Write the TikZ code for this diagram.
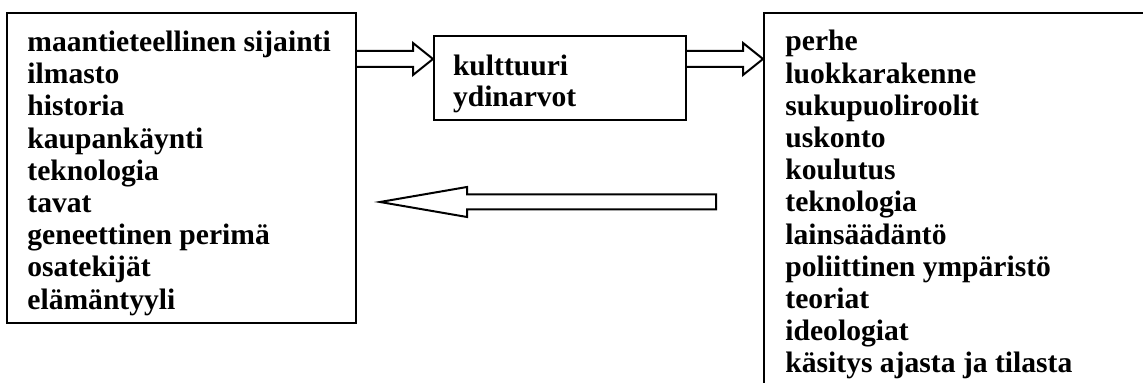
\documentclass[tikz,border=0pt]{standalone}
\usepackage{fontspec}
\setmainfont{Liberation Serif}
\usetikzlibrary{positioning,calc}

\begin{document}
\begin{tikzpicture}[x=0.5pt,y=0.5pt,yscale=-1,xscale=1,
  box/.style={draw,line width=1.1pt,inner sep=0pt,anchor=north west},
  list/.style={align=left,inner sep=0pt,anchor=north west,font=\fontsize{14.8}{16.1}\selectfont\bfseries},
  hollow/.style={draw,line width=1pt,line join=miter}]
\useasboundingbox (0,0) rectangle (1143,383);
\clip (0,0) rectangle (1143,383);

%Boxes
\node [box,minimum width=174.5pt,minimum height=155pt] (tekijat) at (6,12) {};
\node [box,minimum width=126pt,minimum height=42pt] (kulttuuri) at (433,35) {};
\node [box,minimum width=200pt,minimum height=200pt] (ilmiot) at (763,12) {};

% Text Nodes
\node [list,below right=9.3pt and 10.5pt of tekijat.north west] (tekijatxt) {maantieteellinen sijainti\\ilmasto\\historia\\kaupankäynti\\teknologia\\tavat\\geneettinen perimä\\osatekijät\\elämäntyyli};
\node [list,below right=9.8pt and 9.8pt of kulttuuri.north west,font=\fontsize{14.8}{15.5}\selectfont\bfseries] (kulttuuritxt) {kulttuuri\\ydinarvot};
\node [list,below right=9pt and 11pt of ilmiot.north west] (ilmiottxt) {perhe\\luokkarakenne\\sukupuoliroolit\\uskonto\\koulutus\\teknologia\\lainsäädäntö\\poliittinen ympäristö\\teoriat\\ideologiat\\käsitys ajasta ja tilasta};

%Block arrows
\coordinate (rivi) at (0,59);
\coordinate (s1) at (tekijat.east |- rivi);
\coordinate (t1) at (kulttuuri.west |- rivi);
\draw [hollow] ($(s1)+(0,-8)$) -- ($(t1)+(-20,-8)$) -- ($(t1)+(-20,-16)$) -- (t1) -- ($(t1)+(-20,16)$) -- ($(t1)+(-20,8)$) -- ($(s1)+(0,8)$);

\coordinate (s2) at (kulttuuri.east |- rivi);
\coordinate (t2) at (ilmiot.west |- rivi);
\draw [hollow] ($(s2)+(0,-8)$) -- ($(t2)+(-20,-8)$) -- ($(t2)+(-20,-16)$) -- (t2) -- ($(t2)+(-20,16)$) -- ($(t2)+(-20,8)$) -- ($(s2)+(0,8)$);

\coordinate (paluu) at (716,202);
\coordinate (karki) at (380,202);
\draw [hollow] ($(paluu)+(0,-7.5)$) -- ($(karki)+(87,-7.5)$) -- ($(karki)+(87,-15)$) -- (karki) -- ($(karki)+(87,15)$) -- ($(karki)+(87,7.5)$) -- ($(paluu)+(0,7.5)$) -- cycle;
\end{tikzpicture}
\end{document}
